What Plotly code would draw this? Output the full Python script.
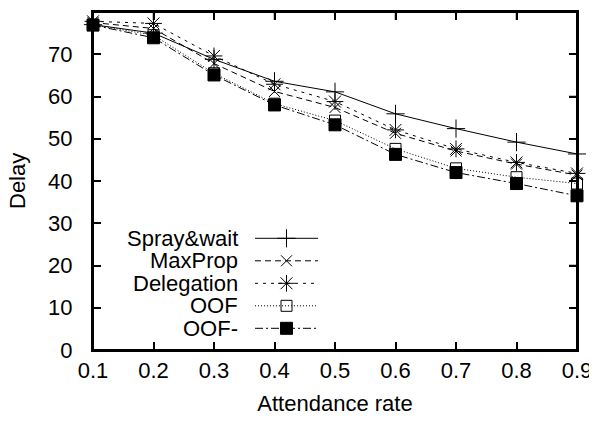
import plotly.graph_objects as go

# ---- data ----
attendance = [0.1, 0.2, 0.3, 0.4, 0.5, 0.6, 0.7, 0.8, 0.9]
spray_wait = [77.0, 75.0, 68.8, 63.6, 61.1, 55.9, 52.4, 49.2, 46.4]
maxprop = [77.5, 76.1, 67.8, 61.2, 57.4, 51.3, 47.1, 44.0, 41.4]
delegation = [77.8, 77.3, 69.6, 62.9, 58.8, 52.1, 47.6, 44.4, 41.8]
oof = [77.0, 74.5, 65.5, 58.3, 54.3, 47.6, 43.0, 40.9, 39.4]
oof_minus = [76.9, 73.9, 65.1, 58.0, 53.3, 46.3, 42.0, 39.4, 36.5]

series_names = ["Spray&wait", "MaxProp", "Delegation", "OOF", "OOF-"]
series_values = [spray_wait, maxprop, delegation, oof, oof_minus]
x_ticks = [0.1, 0.2, 0.3, 0.4, 0.5, 0.6, 0.7, 0.8, 0.9]
y_ticks = [0, 10, 20, 30, 40, 50, 60, 70, 80]

# ---- styles ----
styles = [
    dict(dash="solid", symbol="cross-thin", size=13),
    dict(dash="6px,4px", symbol="x-thin", size=11),
    dict(dash="3px,5px", symbol="asterisk-open", size=14),
    dict(dash="1px,2px", symbol="square-open", size=11),
    dict(dash="8px,3px,2px,3px", symbol="square", size=12),
]

FONT = "Liberation Sans, Arial, Helvetica, sans-serif"
FS = 22
W, H = 597, 422
ml, mr, mt, mb = 85, 28, 4, 80
pw, ph = W - ml - mr, H - mt - mb
TICKLEN = 8

fig = go.Figure()
for name, vals, st in zip(series_names, series_values, styles):
    fig.add_trace(go.Scatter(
        x=attendance, y=vals, mode="lines+markers", name=name,
        line=dict(color="black", width=1, dash=st["dash"]),
        marker=dict(symbol=st["symbol"], size=st["size"], color="black",
                    line=dict(color="black", width=1)),
        cliponaxis=False, showlegend=False,
    ))

# ---- custom legend (text left, sample right), in plot-area fractions ----
text_right_px = 232
sample_x0_px, sample_x1_px = 247, 310
row0_px, row_step_px = 230.3, 22.5
annotations = []
for i, (name, st) in enumerate(zip(series_names, styles)):
    ypx = row0_px + i * row_step_px
    yf = (mt + ph - ypx) / ph
    x0 = (sample_x0_px - ml) / pw
    x1 = (sample_x1_px - ml) / pw
    xm = (x0 + x1) / 2
    fig.add_trace(go.Scatter(
        x=[x0, x1], y=[yf, yf], mode="lines", xaxis="x2", yaxis="y2",
        line=dict(color="black", width=1, dash=st["dash"]),
        showlegend=False, hoverinfo="skip",
    ))
    fig.add_trace(go.Scatter(
        x=[xm], y=[yf], mode="markers", xaxis="x2", yaxis="y2",
        marker=dict(symbol=st["symbol"], size=st["size"], color="black",
                    line=dict(color="black", width=1)),
        showlegend=False, hoverinfo="skip",
    ))
    annotations.append(dict(
        text=name, xref="paper", yref="paper",
        x=(text_right_px - ml) / pw, y=yf, xanchor="right", yanchor="middle",
        showarrow=False, font=dict(family=FONT, size=FS, color="black"),
    ))

# y axis title
annotations.append(dict(
    text="Delay", xref="paper", yref="paper",
    x=(9 - ml) / pw, y=0.5, xanchor="center", yanchor="middle",
    textangle=-90, showarrow=False,
    font=dict(family=FONT, size=FS, color="black"),
))

# ---- frame and mirrored ticks (top / right) ----
shapes = [dict(type="rect", xref="paper", yref="paper", x0=0, x1=1, y0=0, y1=1,
               line=dict(color="black", width=2), layer="above")]
for v in x_ticks[1:-1]:
    shapes.append(dict(type="line", xref="x", yref="paper", x0=v, x1=v,
                       y0=1, y1=1 - TICKLEN / ph,
                       line=dict(color="black", width=1.5), layer="above"))
for v in y_ticks[1:-1]:
    shapes.append(dict(type="line", xref="paper", yref="y", x0=1,
                       x1=1 - TICKLEN / pw, y0=v, y1=v,
                       line=dict(color="black", width=1.5), layer="above"))

fig.update_layout(
    width=W, height=H,
    margin=dict(l=ml, r=mr, t=mt, b=mb),
    paper_bgcolor="white", plot_bgcolor="white",
    font=dict(family=FONT, size=FS, color="black"),
    annotations=annotations,
    shapes=shapes,
    xaxis=dict(
        range=[0.1, 0.9], tickvals=x_ticks, ticktext=[str(v) for v in x_ticks],
        showgrid=False, zeroline=False, showline=True, linecolor="black",
        linewidth=2, mirror="ticks", ticks="inside", ticklen=TICKLEN,
        tickwidth=1.5, tickcolor="black", ticklabelstandoff=0,
        automargin=False,
        title=dict(text="Attendance rate", standoff=13,
                   font=dict(family=FONT, size=FS)),
    ),
    yaxis=dict(
        range=[0, 80], tickvals=y_ticks, ticktext=[str(v) for v in y_ticks],
        showgrid=False, zeroline=False, showline=True, linecolor="black",
        linewidth=2, mirror="ticks", ticks="inside", ticklen=TICKLEN,
        tickwidth=1.5, tickcolor="black", ticklabelstandoff=14,
        automargin=False,
    ),
    xaxis2=dict(range=[0, 1], overlaying="x", visible=False, anchor="y2"),
    yaxis2=dict(range=[0, 1], overlaying="y", visible=False, anchor="x2"),
)

fig.write_html("out.html")
